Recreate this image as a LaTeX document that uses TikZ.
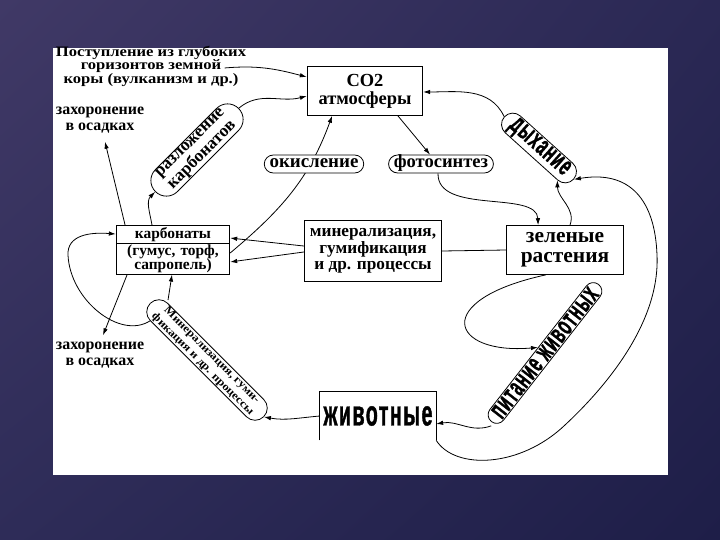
\documentclass[tikz,border=0pt]{standalone}
\usepackage{fontspec}
\setmainfont{Liberation Serif}
\newfontfamily\labelfont[FakeStretch=1.15]{Liberation Serif}
\newfontfamily\narrowfont[FakeStretch=0.55,FakeBold=1,LetterSpace=4]{Liberation Sans}
\usetikzlibrary{arrows.meta,shapes.misc,shapes.multipart,shadings}
\definecolor{slateA}{RGB}{64,57,102}
\definecolor{slateB}{RGB}{42,40,84}
\definecolor{slateC}{RGB}{46,44,88}
\definecolor{slateD}{RGB}{30,30,72}
\newcommand\sz[2]{\fontsize{#1}{#2}\selectfont}
\tikzset{arr/.style={-{Latex[length=7pt,width=4.5pt]}}}

\begin{document}
\begin{tikzpicture}[x=1bp,y=1bp,line width=0.8pt,
    box node/.style={draw,fill=white,align=center,inner sep=1pt},
    oval node/.style={draw,fill=white,rounded rectangle,align=center,inner xsep=3pt,inner ysep=1pt},
    note node/.style={align=center,inner sep=0pt}]
    \useasboundingbox (0,0) rectangle (720,-540);
    \shade[upper left=slateA,upper right=slateB,lower left=slateC,lower right=slateD] (0,0) rectangle (720,-540);
    \fill[white] (53,-48) rectangle (668,-475);

    % boxes
    \node [box node,minimum width=116,minimum height=49,font=\bfseries\sz{18.5}{18}] (co2) at (365,-91) {CO2\\атмосферы};
    \node [box node,rectangle split,rectangle split parts=2,text width=112,font=\bfseries\sz{15.5}{14.5}] (carb) at (173,-250)
        {карбонаты\nodepart{two}(гумус, торф,\\сапропель)};
    \node [box node,minimum width=138,minimum height=62,font=\bfseries\sz{17.3}{16.5}] (miner) at (373,-251) {минерализация,\\гумификация\\и др. процессы};
    \node [box node,minimum width=117,minimum height=49,font=\bfseries\sz{21.5}{20}] (green) at (565,-250) {зеленые\\растения};
    \node [note node,minimum width=116,minimum height=48,font=\narrowfont\bfseries\sz{36}{40}] (anim) at (378,-416) {животные};
    \draw (anim.south west) |- (anim.north east) -- (anim.south east);

    % free texts
    \node [note node,font=\labelfont\bfseries\sz{14.5}{13.5}] (src) at (151,-66) {Поступление из глубоких\\горизонтов земной\\коры (вулканизм и др.)};
    \node [note node,font=\bfseries\sz{16}{16.5}] (bur1) at (100,-120) {захоронение\\в осадках};
    \node [note node,font=\bfseries\sz{16}{16.5}] (bur2) at (100,-355) {захоронение\\в осадках};

    % carbonates to CO2, under the oval
    \draw [arr] ([yshift=-3]carb.east) to[out=40,in=250] ([xshift=-33]co2.south);

    % ovals
    \node [oval node,minimum height=18,text height=10,text depth=2,font=\bfseries\sz{19}{19}] (oxid) at (314,-164) {окисление};
    \node [oval node,minimum height=18,text height=10,text depth=2,font=\bfseries\sz{18.6}{19}] (photo) at (441,-164) {фотосинтез};
    \node [oval node,rotate=45,font=\bfseries\sz{17.5}{16}] (decomp) at (197,-150) {разложение\\карбонатов};
    \node [oval node,rotate=-42,font=\narrowfont\bfseries\sz{28}{30}] (resp) at (539,-148) {дыхание};
    \node [oval node,rotate=52,font=\narrowfont\bfseries\sz{28}{30}] (feed) at (545,-353) {питание животных};
    \node [oval node,rotate=-45,font=\labelfont\bfseries\sz{11}{13}] (minr) at (207,-360) {Минерализация, гуми-\\фикация и др. процессы};

    % connectors
    \draw [arr] ([xshift=-22,yshift=-2]src.east) to[out=5,in=165] ([yshift=14]co2.west);
    \draw [arr] (decomp.east) to[out=40,in=195] ([yshift=-5]co2.west);
    \draw [arr] ([xshift=33]co2.south) -- ([xshift=-11]photo.north);
    \draw [arr] ([xshift=-3]photo.south) .. controls (437,-215) and (537,-190) .. ([xshift=-27]green.north);
    \draw [arr] ([xshift=5]green.north) to[out=70,in=-90] (resp.south east);
    \draw [arr] (resp.west) to[out=115,in=0] ([yshift=-1]co2.east);
    \draw [arr] (anim.south east) .. controls (455,-470) and (520,-468) .. (565,-425)
        .. controls (610,-383) and (660,-320) .. (657,-255)
        .. controls (655,-200) and (630,-170) .. (resp.east);
    \draw [arr] ([yshift=5]miner.west) -- ([yshift=12]carb.east);
    \draw [arr] ([yshift=-1]miner.west) -- ([yshift=-12]carb.east);
    \draw (miner.east) -- (green.west);
    \draw [arr] ([xshift=-21]carb.north) to[out=100,in=225] (decomp.west);
    \draw [arr] ([xshift=-48]carb.north) -- ([xshift=5,yshift=-8]bur1.south);
    \draw [arr] ([xshift=-46]carb.south) -- ([xshift=3,yshift=6]bur2.north);
    \draw [arr] ([shift={(18,3)}]minr.west) -- ([xshift=-1]carb.south);
    \draw [arr] (minr.south west) .. controls (120,-340) and (70,-300) .. (68,-255)
        .. controls (67,-235) and (90,-232) .. ([yshift=16]carb.west);
    \draw [arr] (anim.west) to[out=185,in=-10] (minr.east);
    \draw [arr] ([yshift=-4]feed.west) to[out=200,in=10] ([yshift=-8]anim.east);
    \draw [arr] ([xshift=-19]green.south) .. controls (430,-300) and (450,-355) .. (feed.north);
\end{tikzpicture}
\end{document}
